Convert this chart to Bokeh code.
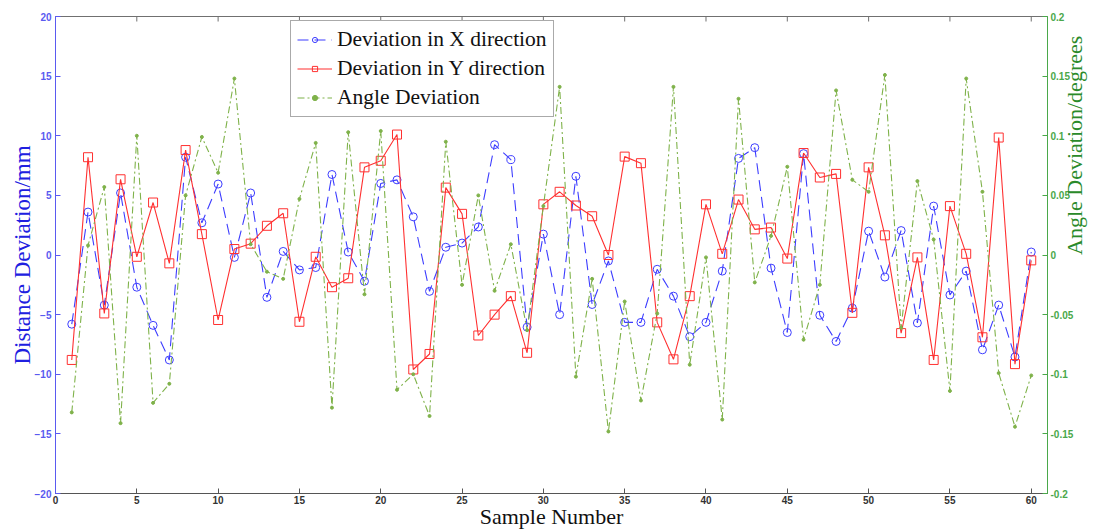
from bokeh.plotting import figure
from bokeh.models import (Range1d, LinearAxis, FixedTicker, CustomJSTickFormatter,
                          Legend, LegendItem)
from bokeh.embed import file_html
from bokeh.resources import INLINE
import math

samples = list(range(1, 61))

dev_x = [-5.8, 3.6, -4.2, 5.2, -2.7, -5.9, -8.8, 8.2, 2.7, 5.95,
         -0.2, 5.2, -3.55, 0.3, -1.25, -1.05, 6.75, 0.25, -2.2, 6.0,
         6.3, 3.2, -3.05, 0.65, 1.0, 2.35, 9.25, 8.0, -6.05, 1.75,
         -5.0, 6.6, -4.15, -0.5, -5.65, -5.65, -1.2, -3.45, -6.85, -5.65,
         -1.35, 8.1, 9.0, -1.1, -6.5, 8.5, -5.05, -7.25, -4.45, 2.0,
         -1.85, 2.05, -5.7, 4.1, -3.35, -1.35, -7.95, -4.2, -8.55, 0.25]

dev_y = [-8.8, 8.2, -4.9, 6.35, -0.15, 4.4, -0.7, 8.8, 1.75, -5.45,
         0.5, 0.95, 2.45, 3.5, -5.6, -0.15, -2.7, -1.95, 7.35, 7.9,
         10.1, -9.6, -8.3, 5.65, 3.45, -6.75, -5.0, -3.45, -8.2, 4.25,
         5.3, 4.15, 3.25, 0.0, 8.25, 7.7, -5.65, -8.75, -3.45, 4.25,
         0.1, 4.65, 2.15, 2.3, -0.3, 8.55, 6.5, 6.8, -4.85, 7.35,
         1.65, -6.55, -0.2, -8.8, 4.1, 0.1, -6.9, 9.85, -9.15, -0.45]

dev_angle = [-0.132, 0.008, 0.057, -0.141, 0.100, -0.124, -0.108, 0.050, 0.099, 0.069,
             0.148, 0.009, -0.014, -0.020, 0.047, 0.094, -0.128, 0.103, -0.033, 0.104,
             -0.113, -0.100, -0.135, 0.095, -0.025, 0.050, -0.030, 0.009, -0.063, 0.041,
             0.141, -0.102, -0.020, -0.148, -0.039, -0.122, -0.049, 0.141, -0.092, -0.002,
             -0.138, 0.131, -0.023, 0.016, 0.074, -0.071, -0.025, 0.138, 0.063, 0.053,
             0.151, -0.061, 0.062, 0.013, -0.114, 0.148, 0.053, -0.099, -0.144, -0.101]

x_ticks = [0, 5, 10, 15, 20, 25, 30, 35, 40, 45, 50, 55, 60]
left_ticks = [-20, -15, -10, -5, 0, 5, 10, 15, 20]
right_ticks = [-0.2, -0.15, -0.1, -0.05, 0, 0.05, 0.1, 0.15, 0.2]

labels = ["Deviation in X direction", "Deviation in Y direction", "Angle Deviation"]
x_title = "Sample Number"
left_title = "Distance Deviation/mm"
right_title = "Angle Deviation/degrees"

BLUE = "#3d3dff"
RED = "#ff3030"
GREEN = "#7fb24a"
AX_BLUE = "#5a5af0"
AX_GREEN = "#4aa84a"
SERIF = "Liberation Serif"
SANS = "Liberation Sans"

p = figure(width=1102, height=531, output_backend="svg", toolbar_location=None,
           x_range=Range1d(0, 61), y_range=Range1d(-20, 20),
           x_axis_location=None, y_axis_location=None,
           min_border_left=55, min_border_top=16, min_border_right=51, min_border_bottom=38)
p.extra_y_ranges = {"angle": Range1d(-0.2, 0.2)}
p.xgrid.visible = False
p.ygrid.visible = False
p.outline_line_color = "#707070"
p.background_fill_color = "white"
p.border_fill_color = "white"


def style_axis(ax, color, label_color, font_size="10px"):
    ax.axis_line_color = color
    ax.major_tick_line_color = color
    ax.major_tick_in = 5
    ax.major_tick_out = 0
    ax.minor_tick_line_color = None
    ax.major_label_text_color = label_color
    ax.major_label_text_font = SANS
    ax.major_label_text_font_style = "bold"
    ax.major_label_text_font_size = font_size
    ax.axis_label_text_font = SERIF
    ax.axis_label_text_font_style = "normal"


bottom = LinearAxis(ticker=FixedTicker(ticks=x_ticks), axis_label=x_title)
style_axis(bottom, "#555555", "#333333")
bottom.major_label_standoff = 2
bottom.axis_label_standoff = -3
bottom.axis_label_text_font_size = "22px"
bottom.axis_label_text_color = "#111111"
p.add_layout(bottom, "below")

left = LinearAxis(ticker=FixedTicker(ticks=left_ticks), axis_label=left_title)
style_axis(left, AX_BLUE, AX_BLUE)
left.major_label_standoff = 4
left.axis_label_standoff = -3
left.axis_label_text_font_size = "23px"
left.axis_label_text_color = "#2020e0"
p.add_layout(left, "left")

right = LinearAxis(y_range_name="angle", ticker=FixedTicker(ticks=right_ticks),
                   axis_label=right_title,
                   formatter=CustomJSTickFormatter(code="return (Math.round(tick*100)/100).toString();"))
style_axis(right, AX_GREEN, AX_GREEN)
right.major_label_standoff = 3
right.axis_label_standoff = -2
right.axis_label_text_font_size = "22px"
right.axis_label_text_color = "#2a8a2a"
if "axis_label_orientation" in LinearAxis.properties():
    right.axis_label_orientation = math.pi / 2
p.add_layout(right, "right")

# inward tick marks along the top edge of the box
p.ray(x=x_ticks, y=[20] * len(x_ticks), length=5, length_units="screen",
      angle=-90, angle_units="deg", line_color="#707070", line_width=1)

lx = p.line(samples, dev_x, line_color=BLUE, line_width=1.1, line_dash="11 6")
sx = p.scatter(samples, dev_x, marker="circle", size=8, fill_color=None,
               line_color=BLUE, line_width=1)
ly = p.line(samples, dev_y, line_color=RED, line_width=1.1)
sy = p.scatter(samples, dev_y, marker="square", size=9, fill_color=None,
               line_color=RED, line_width=1)
la = p.line(samples, dev_angle, y_range_name="angle", line_color=GREEN,
            line_width=1.1, line_dash="7 3 2 3")
sa = p.scatter(samples, dev_angle, y_range_name="angle", marker="circle", size=3,
               fill_color=GREEN, line_color=GREEN)

legend = Legend(items=[LegendItem(label=labels[0], renderers=[lx, sx]),
                       LegendItem(label=labels[1], renderers=[ly, sy]),
                       LegendItem(label=labels[2], renderers=[la, sa])],
                location=(235, 376))
legend.label_text_font = SERIF
legend.label_text_font_size = "21.5px"
legend.label_text_color = "#111111"
legend.glyph_width = 35
legend.glyph_height = 13
legend.label_height = 22
legend.spacing = 4
legend.padding = 6
legend.label_standoff = 5
legend.border_line_color = "#555555"
legend.border_line_width = 1
legend.background_fill_alpha = 1
legend.margin = 0
p.add_layout(legend, "center")

open("out.html", "w").write(file_html(p, INLINE))
